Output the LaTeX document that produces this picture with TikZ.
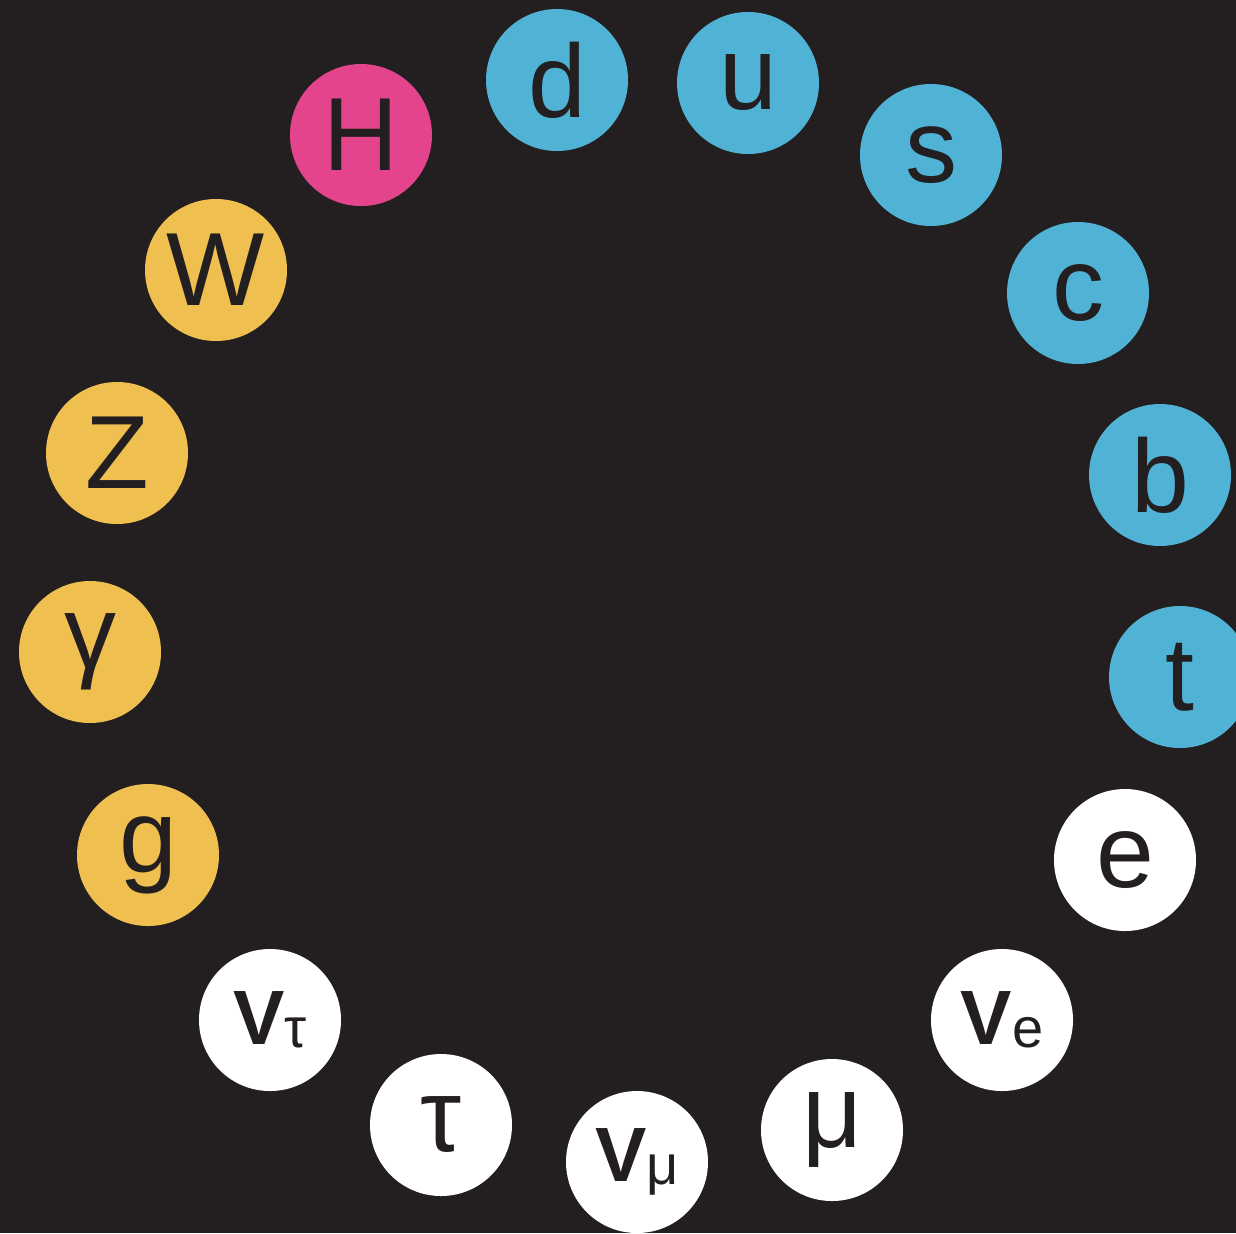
\documentclass[tikz,border=0pt]{standalone}
\usepackage{fontspec}
\setmainfont{Liberation Sans}
\usepackage{tikz}
\definecolor{bgdark}{RGB}{35,31,32}
\definecolor{quarkblue}{RGB}{80,178,212}
\definecolor{bosonyellow}{RGB}{239,192,80}
\definecolor{higgspink}{RGB}{228,68,140}
\newcommand{\bigsym}[1]{{\fontsize{52}{54}\selectfont #1}}
\newcommand{\nusym}[1]{{\fontsize{38.5}{40}\selectfont\bfseries V}{\fontsize{28}{30}\selectfont\raisebox{-1.5pt}{#1}}}

\begin{document}
\begin{tikzpicture}[x=0.5pt, y=-0.5pt,
    ball/.style={circle, minimum size=71pt, inner sep=0pt, text=bgdark},
    quark/.style={ball, fill=quarkblue},
    boson/.style={ball, fill=bosonyellow},
    higgs/.style={ball, fill=higgspink},
    lepton/.style={ball, fill=white}]
    % --- 1. background and frame ---
    \fill[bgdark] (0,0) rectangle (1236,1233);
    \useasboundingbox (0,0) rectangle (1236,1233);

    % --- 2. quarks ---
    \node[quark] (d) at (557,80) {\bigsym{d}};
    \node[quark] (u) at (748,83) {\bigsym{u}};
    \node[quark] (s) at (931,155) {\bigsym{s}};
    \node[quark] (c) at (1078,293) {\bigsym{c}};
    \node[quark] (b) at (1160,475) {\bigsym{b}};
    \node[quark] (t) at (1180,677) {\bigsym{t}};

    % --- 3. leptons ---
    \node[lepton] (e) at (1125,860) {\bigsym{e}};
    \node[lepton] (nue) at (1002,1020) {\nusym{e}};
    \node[lepton] (mu) at (832,1130) {\bigsym{μ}};
    \node[lepton] (numu) at (637,1162) {\nusym{μ}};
    \node[lepton] (tau) at (441,1125) {\bigsym{τ}};
    \node[lepton] (nutau) at (270,1020) {\nusym{τ}};

    % --- 4. gauge bosons ---
    \node[boson] (g) at (148,855) {\bigsym{g}};
    \node[boson] (gamma) at (90,652) {\bigsym{γ}};
    \node[boson] (Z) at (117,453) {\bigsym{Z}};
    \node[boson] (W) at (216,270) {\bigsym{W}};

    % --- 5. Higgs ---
    \node[higgs] (H) at (361,135) {\bigsym{H}};
\end{tikzpicture}
\end{document}
